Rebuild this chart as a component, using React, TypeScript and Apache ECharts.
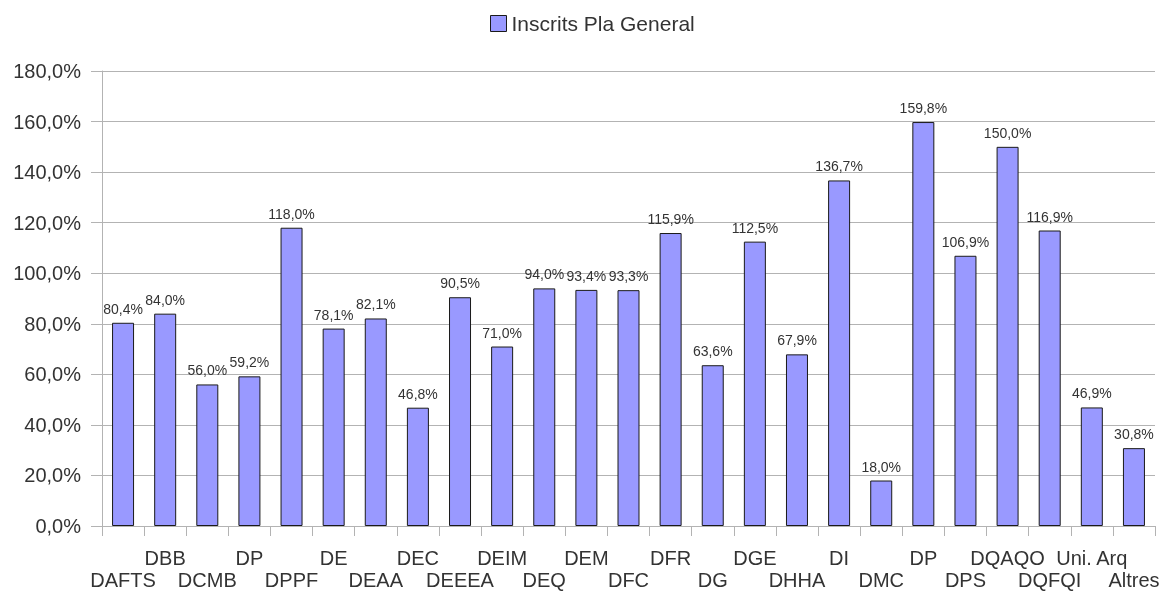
import React, { useEffect, useRef } from "react";
import * as echarts from "echarts";

const categories = ["DAFTS", "DBB", "DCMB", "DP", "DPPF", "DE", "DEAA", "DEC", "DEEEA", "DEIM", "DEQ", "DEM", "DFC", "DFR", "DG", "DGE", "DHHA", "DI", "DMC", "DP", "DPS", "DQAQO", "DQFQI", "Uni. Arq", "Altres"];
const values = [80.4, 84.0, 56.0, 59.2, 118.0, 78.1, 82.1, 46.8, 90.5, 71.0, 94.0, 93.4, 93.3, 115.9, 63.6, 112.5, 67.9, 136.7, 18.0, 159.8, 106.9, 150.0, 116.9, 46.9, 30.8];
const seriesName = "Inscrits Pla General";

const fmt = (v: number) => v.toFixed(1).replace(".", ",") + "%";

export default function App() {
  const ref = useRef<HTMLDivElement>(null);
  useEffect(() => {
    const chart = echarts.init(ref.current!, null, { renderer: "svg" });
    const font = "'Liberation Sans', Arial, sans-serif";
    chart.setOption({
      animation: false,
      textStyle: { fontFamily: font },
      legend: {
        top: 13,
        left: 490,
        padding: 0,
        itemWidth: 16,
        itemHeight: 16,
        itemGap: 8,
        icon: "rect",
        textStyle: { fontSize: 21, color: "#333", fontFamily: font },
        itemStyle: { borderColor: "#1a1a1a", borderWidth: 1 },
        data: [seriesName],
      },
      grid: { left: 102, right: 9, top: 71, bottom: 66 },
      xAxis: {
        type: "category",
        data: categories,
        axisLine: { lineStyle: { color: "#b3b3b3" } },
        axisTick: { show: true, length: 10, lineStyle: { color: "#b3b3b3" }, alignWithLabel: false },
        axisLabel: {
          interval: 0,
          fontSize: 20,
          color: "#333",
          fontFamily: font,
          lineHeight: 22,
          margin: 21,
          formatter: (v: string, i: number) => (i % 2 === 0 ? "\n" + v : v),
        },
      },
      yAxis: {
        type: "value",
        min: 0,
        max: 180,
        interval: 20,
        axisLine: { show: true, lineStyle: { color: "#b3b3b3" } },
        axisTick: { show: true, length: 11, lineStyle: { color: "#b3b3b3" } },
        splitLine: { lineStyle: { color: "#b3b3b3" } },
        axisLabel: { fontSize: 20, color: "#333", fontFamily: font, margin: 21, formatter: (v: number) => fmt(v) },
      },
      series: [
        {
          name: seriesName,
          type: "bar",
          data: values,
          barWidth: 22,
          itemStyle: { color: "#9999ff", borderColor: "#1a1a1a", borderWidth: 1 },
          label: {
            show: true,
            position: "top",
            distance: 7,
            fontSize: 14,
            color: "#333",
            fontFamily: font,
            formatter: (p: any) => fmt(p.value),
          },
        },
      ],
    });
    return () => chart.dispose();
  }, []);
  return <div ref={ref} style={{ position: "fixed", left: 0, top: 0, width: 1164, height: 592 }} />;
}
